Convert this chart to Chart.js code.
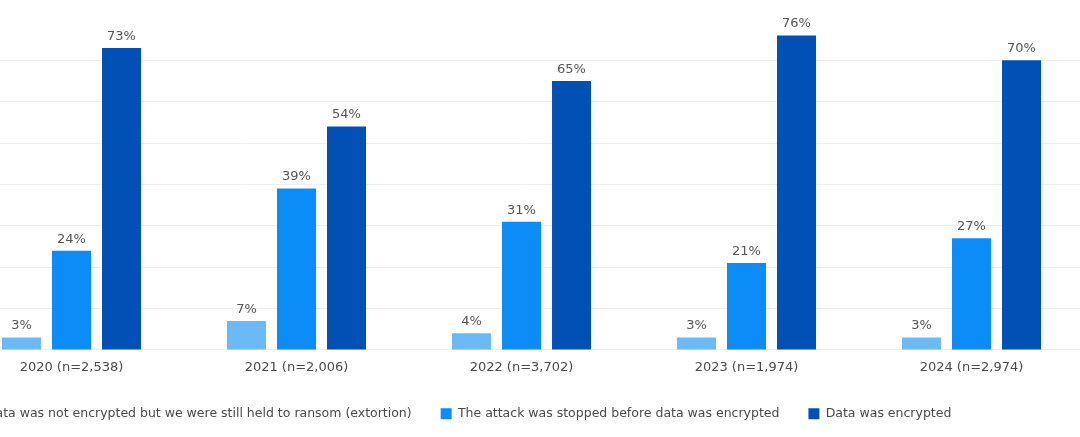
<!DOCTYPE html>
<html><head><meta charset="utf-8">
<script src="https://cdn.jsdelivr.net/npm/chart.js@4.4.1/dist/chart.umd.min.js"></script>
<style>
html,body{margin:0;padding:0;background:#fff;overflow:hidden;width:1080px;height:437px;}
#wrap{position:absolute;left:-164px;top:0;width:1250px;height:437px;}
</style></head><body>
<div id="wrap"><canvas id="c"></canvas></div>
<script>
const categories = ["2020 (n=2,538)", "2021 (n=2,006)", "2022 (n=3,702)", "2023 (n=1,974)", "2024 (n=2,974)"];
const seriesNames = [
  "Data was not encrypted but we were still held to ransom (extortion)",
  "The attack was stopped before data was encrypted",
  "Data was encrypted"
];
const extortion = [3, 7, 4, 3, 3];
const stopped = [24, 39, 31, 21, 27];
const encrypted = [73, 54, 65, 76, 70];
const yTicks = [0, 10, 20, 30, 40, 50, 60, 70, 80];
const colors = ["#6cbaf5", "#0b8cf6", "#0150b6"];
const FONT = "'DejaVu Sans', sans-serif";

const labelPlugin = {
  id: "barLabels",
  afterDatasetsDraw(chart) {
    const ctx = chart.ctx;
    ctx.save();
    ctx.font = "13px " + FONT;
    ctx.fillStyle = "#555555";
    ctx.textAlign = "center";
    ctx.textBaseline = "bottom";
    chart.data.datasets.forEach((ds, i) => {
      const meta = chart.getDatasetMeta(i);
      meta.data.forEach((bar, j) => {
        ctx.fillText(ds.data[j] + "%", bar.x, bar.y - 5);
      });
    });
    ctx.restore();
  }
};

new Chart(document.getElementById("c"), {
  type: "bar",
  data: {
    labels: categories,
    datasets: [
      { label: seriesNames[0], data: extortion, backgroundColor: colors[0] },
      { label: seriesNames[1], data: stopped, backgroundColor: colors[1] },
      { label: seriesNames[2], data: encrypted, backgroundColor: colors[2] }
    ]
  },
  options: {
    responsive: true,
    maintainAspectRatio: false,
    animation: false,
    datasets: { bar: { categoryPercentage: 0.667, barPercentage: 0.78 } },
    layout: { padding: { left: 0, right: 2, top: 19, bottom: 7 } },
    plugins: {
      legend: {
        position: "bottom",
        labels: {
          font: { size: 12.5, family: FONT },
          color: "#4a4a4a",
          boxWidth: 11,
          boxHeight: 11,
          padding: 29
        }
      },
      tooltip: { enabled: false }
    },
    scales: {
      x: {
        grid: { display: false, drawTicks: false },
        border: { display: false },
        afterFit(scale) { scale.height -= 7; },
        ticks: { font: { size: 13, family: FONT }, color: "#4a4a4a", padding: 10 }
      },
      y: {
        min: yTicks[0],
        max: yTicks[yTicks.length - 1],
        afterBuildTicks(scale) { scale.ticks = yTicks.map(v => ({ value: v })); },
        afterFit(scale) { scale.width = 123; },
        ticks: { display: false },
        border: { display: false },
        grid: {
          drawTicks: false,
          color: c => (c.tick && c.tick.value === yTicks[yTicks.length - 1]) ? "rgba(0,0,0,0)" : "#efefef"
        }
      }
    }
  },
  plugins: [labelPlugin]
});
</script>
</body></html>
